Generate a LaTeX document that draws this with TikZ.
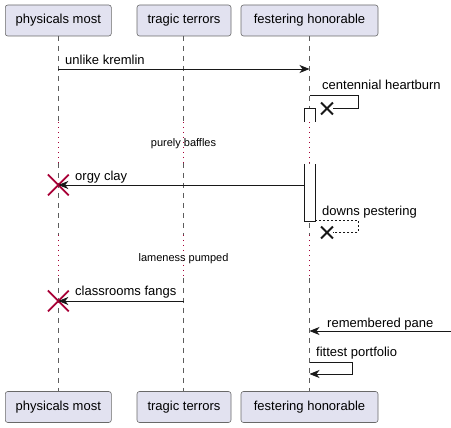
\documentclass[tikz,border=0pt]{standalone}
\usepackage{fontspec}
\setmainfont{Liberation Sans}
\usetikzlibrary{arrows.meta,shapes.misc}
\definecolor{partfill}{HTML}{E2E2F0}
\definecolor{partline}{HTML}{181818}
\definecolor{killred}{HTML}{A80036}
\begin{document}
\begin{tikzpicture}[x=1pt,y=-1pt,part/.style={draw=partline!65,line width=0.6pt,fill=partfill,rounded corners=2.5pt,minimum height=31pt,inner sep=0pt,font=\fontsize{13}{15}\selectfont},life/.style={draw=partline!70,line width=0.5pt,dash pattern=on 5pt off 5pt},delay/.style={draw=killred,line width=0.9pt,dash pattern=on 0.9pt off 4.1pt},msg/.style={draw=partline,line width=0.9pt,-{Stealth[length=10pt,width=8pt,inset=3pt]}},back/.style={draw=partline,line width=0.9pt},lbl/.style={anchor=base west,inner sep=0pt,font=\fontsize{13}{15}\selectfont},note/.style={anchor=base,inner sep=0pt,font=\fontsize{11}{13}\selectfont},killR/.style={cross out,draw=killred,line width=1.8pt,minimum size=19pt,inner sep=0pt},killB/.style={cross out,draw=partline,line width=1.8pt,minimum size=10pt,inner sep=0pt},act/.style={fill=white,minimum width=10pt,inner sep=0pt}]
\def\xa{58.3};
\def\xb{183.5};
\def\xc{309.5};
\useasboundingbox (0,0) rectangle (451,428);

\node[part,minimum width=106pt] (pm) at (\xa,20.5) {physicals most};
\node[part,minimum width=94pt] (tt) at (184,20.5) {tragic terrors};
\node[part,minimum width=137pt] (fh) at (\xc,20.5) {festering honorable};
\node[part,minimum width=106pt] (pmB) at (\xa,407) {physicals most};
\node[part,minimum width=94pt] (ttB) at (184,407) {tragic terrors};
\node[part,minimum width=137pt] (fhB) at (\xc,407) {festering honorable};

\foreach \p/\x in {pm/\xa,tt/\xb,fh/\xc} {
\draw[life] (\x,36) -- (\x,122);
\draw[delay] (\x,122) -- (\x,163);
\draw[life] (\x,163) -- (\x,235);
\draw[delay] (\x,235) -- (\x,278);
\draw[life] (\x,278) -- (\x,391);
}

\node[act,minimum height=13pt] (act1) at (310,115.5) {};
\draw[partline,line width=0.9pt] (act1.south west) -- (act1.north west) -- (act1.north east) -- (act1.south east);
\node[act,minimum height=57pt] (act2) at (310,192.5) {};
\draw[partline,line width=0.9pt] (act2.north west) -- (act2.south west) -- (act2.south east) -- (act2.north east);

\draw[msg] (\xa,69) -- (\xc,69);
\node[lbl] (l1) at (65,65) {unlike kremlin};

\node[killB] (k1) at (327,108.5) {};
\draw[back] (\xc,95.5) -- (358,95.5) |- (k1.east);
\node[lbl] (l2) at (322,90) {centennial heartburn};

\node[note] (d1) at (183.5,147) {purely baffles};

\node[killR] (k2) at (\xa,185) {};
\draw[msg] (act2.west |- k2) -- (k2.center);
\node[lbl] (l3) at (75,181) {orgy clay};

\node[killB] (k3) at (327,232.5) {};
\draw[back,dash pattern=on 2pt off 2pt,line width=0.6pt] (act2.east |- 0,220) -- (358,220) |- (k3.east);
\node[lbl] (l4) at (322,216) {downs pestering};

\node[note] (d2) at (183.5,262) {lameness pumped};

\node[killR] (k4) at (\xa,301) {};
\draw[msg] (\xb,301) -- (k4.center);
\node[lbl] (l5) at (75,296) {classrooms fangs};

\coordinate (edge) at (451,331);
\draw[msg] (edge) -- (\xc,331);
\node[lbl] (l6) at (327,327) {remembered pane};

\draw[msg] (\xc,362) -- (352,362) |- (\xc,374);
\node[lbl] (l7) at (316,357) {fittest portfolio};
\end{tikzpicture}
\end{document}
